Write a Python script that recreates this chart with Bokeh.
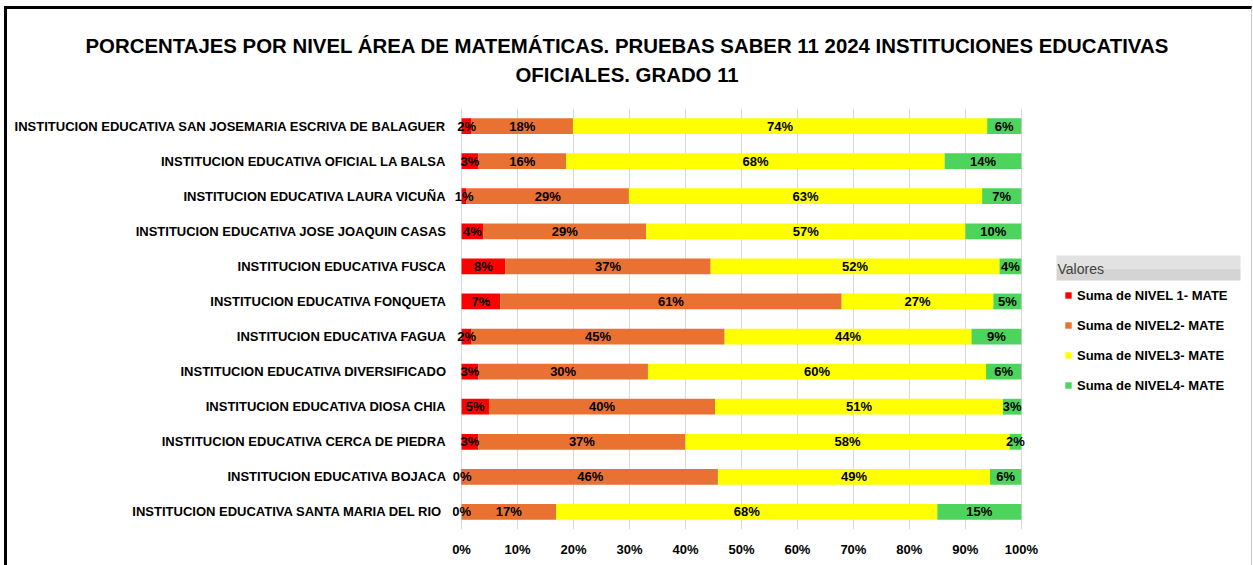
from bokeh.plotting import figure
from bokeh.models import (ColumnDataSource, FactorRange, Range1d, Legend, LegendItem, Label,
                          BoxAnnotation, FixedTicker, Title)
from bokeh.core.properties import value
from bokeh.embed import file_html
from bokeh.resources import INLINE

# ---------------- data (top to bottom as in the chart) ----------------
instituciones = [
    "INSTITUCION EDUCATIVA SAN JOSEMARIA ESCRIVA DE BALAGUER",
    "INSTITUCION EDUCATIVA OFICIAL LA BALSA",
    "INSTITUCION EDUCATIVA LAURA VICUÑA",
    "INSTITUCION EDUCATIVA JOSE JOAQUIN CASAS",
    "INSTITUCION EDUCATIVA FUSCA",
    "INSTITUCION EDUCATIVA FONQUETA",
    "INSTITUCION EDUCATIVA FAGUA",
    "INSTITUCION EDUCATIVA DIVERSIFICADO",
    "INSTITUCION EDUCATIVA DIOSA CHIA",
    "INSTITUCION EDUCATIVA CERCA DE PIEDRA",
    "INSTITUCION EDUCATIVA BOJACA",
    "INSTITUCION EDUCATIVA  SANTA MARIA DEL RIO",
]
nivel1 = [1.8, 3.0, 0.9, 3.9, 7.8, 6.9, 1.8, 3.0, 4.9, 3.0, 0.2, 0.0]
nivel2 = [18.1, 15.7, 29.0, 29.1, 36.7, 61.0, 45.2, 30.3, 40.4, 37.0, 45.6, 16.9]
nivel3 = [74.0, 67.6, 63.1, 57.0, 51.6, 27.1, 44.1, 60.4, 51.4, 57.9, 48.6, 68.1]
nivel4 = [6.1, 13.7, 7.0, 10.0, 3.9, 5.0, 8.9, 6.3, 3.3, 2.1, 5.6, 15.0]

series_names = ["Suma de NIVEL 1- MATE", "Suma de NIVEL2- MATE",
                "Suma de NIVEL3- MATE", "Suma de NIVEL4- MATE"]
colors = ["#FF0000", "#E97132", "#FFFF00", "#4CD45C"]
tick_values = [0, 10, 20, 30, 40, 50, 60, 70, 80, 90, 100]
tick_labels = ["0%", "10%", "20%", "30%", "40%", "50%", "60%", "70%", "80%", "90%", "100%"]
title_lines = ["PORCENTAJES  POR NIVEL  ÁREA DE MATEMÁTICAS. PRUEBAS SABER 11 2024 INSTITUCIONES EDUCATIVAS",
               "OFICIALES. GRADO 11"]
legend_title = "Valores"

FONT = "Liberation Sans"

keys = ["n1", "n2", "n3", "n4"]
source = ColumnDataSource(dict(inst=instituciones, n1=nivel1, n2=nivel2, n3=nivel3, n4=nivel4))

# layout (canvas pixels)
W, H = 1244, 556
ML, MT, MB = 445, 99, 39
ZERO_PX = 454            # canvas x of 0 %
PX_PER_UNIT = 5.57       # pixels per percentage point
x_start = -(ZERO_PX - ML) / PX_PER_UNIT
x_end = (W - ZERO_PX) / PX_PER_UNIT

p = figure(width=W, height=H, output_backend="svg", toolbar_location=None,
           x_range=Range1d(x_start, x_end), y_range=FactorRange(factors=list(reversed(instituciones))),
           min_border_left=ML, min_border_right=0, min_border_top=MT, min_border_bottom=MB)
p.title = None
p.styles = {"box-sizing": "content-box", "border": "3px solid black",
            "border-right": "1px solid #C8C8C8", "border-bottom": "0px none white",
            "margin-left": "4px", "margin-top": "6px"}
p.outline_line_color = None
p.background_fill_color = "white"
p.border_fill_color = "white"

renderers = p.hbar_stack(keys, y="inst", height=0.45, color=colors, line_color=None, source=source)

# data labels
lx, ly, lt = [], [], []
for i, inst in enumerate(instituciones):
    cum = 0.0
    for arr in (nivel1, nivel2, nivel3, nivel4):
        v = arr[i]
        lx.append(cum + v / 2.0)
        ly.append(inst)
        lt.append(f"{round(v):d}%")
        cum += v
lsrc = ColumnDataSource(dict(x=lx, y=ly, t=lt))
p.text(x="x", y="y", text="t", source=lsrc, text_align="center", text_baseline="middle",
       text_font=value(FONT), text_font_style="bold", text_font_size="13px", text_color="black")

# axes
p.xaxis.ticker = FixedTicker(ticks=tick_values)
p.xaxis.major_label_overrides = {t: l for t, l in zip(tick_values, tick_labels)}
p.xaxis.axis_line_color = None
p.xaxis.major_tick_line_color = None
p.xaxis.minor_tick_line_color = None
p.xaxis.major_tick_out = 0
p.xaxis.major_tick_in = 0
p.xaxis.major_label_standoff = 12
p.xaxis.major_label_text_font = FONT
p.xaxis.major_label_text_font_style = "bold"
p.xaxis.major_label_text_font_size = "13px"
p.xaxis.major_label_text_color = "black"

p.yaxis.axis_line_color = None
p.yaxis.major_tick_line_color = None
p.yaxis.major_tick_out = 0
p.yaxis.major_tick_in = 0
p.yaxis.major_label_standoff = 6
p.yaxis.major_label_text_font = FONT
p.yaxis.major_label_text_font_style = "bold"
p.yaxis.major_label_text_font_size = "13px"
p.yaxis.major_label_text_color = "black"

p.xgrid.grid_line_color = "#D9D9D9"
p.ygrid.grid_line_color = None

# title (two lines), first panel added is nearest to the frame
p.add_layout(Title(text=" ", text_font_size="1px", standoff=20), "above")
p.add_layout(Title(text=title_lines[1], align="left", offset=63, standoff=0,
                   text_font=FONT, text_font_style="bold", text_font_size="20.4px",
                   text_color="black"), "above")
p.add_layout(Title(text=title_lines[0], align="left", offset=-367, standoff=10,
                   text_font=FONT, text_font_style="bold", text_font_size="20.4px",
                   text_color="black"), "above")

# legend title band + text (screen units relative to the frame)
p.add_layout(BoxAnnotation(left=604, right=788, bottom=249, top=261,
                           left_units="screen", right_units="screen",
                           bottom_units="screen", top_units="screen",
                           fill_color="#D4D4D4", fill_alpha=1.0, line_color=None))
p.add_layout(BoxAnnotation(left=604, right=788, bottom=261, top=274,
                           left_units="screen", right_units="screen",
                           bottom_units="screen", top_units="screen",
                           fill_color="#E2E2E2", fill_alpha=1.0, line_color=None))
p.add_layout(Label(x=605, y=261, x_units="screen", y_units="screen", text=legend_title,
                   text_align="left", text_baseline="middle", text_font=FONT,
                   text_font_size="14px", text_color="#404040"))

legend = Legend(items=[LegendItem(label=n, renderers=[r]) for n, r in zip(series_names, renderers)],
                location=(612, 134), padding=0, margin=0, spacing=10, label_height=20,
                glyph_width=8, glyph_height=8, label_standoff=5, border_line_color=None,
                background_fill_alpha=0, label_text_font=FONT, label_text_font_style="bold",
                label_text_font_size="13px", label_text_color="black")
p.add_layout(legend)

open("out.html", "w").write(file_html(p, INLINE))
